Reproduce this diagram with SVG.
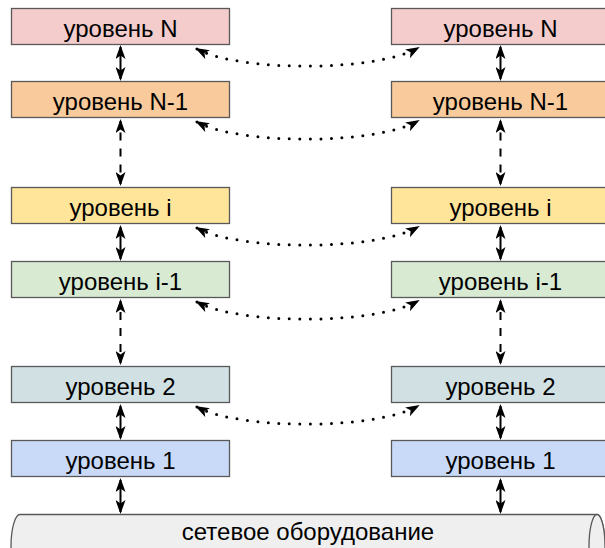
<svg xmlns="http://www.w3.org/2000/svg" width="605" height="548" viewBox="0 0 605 548">
  <style>
    .box { stroke: #595959; stroke-width: 1.3; }
    .lbl { font-family: "Liberation Sans", Arial, sans-serif; font-size: 24px; fill: #000; text-anchor: middle; }
    .solid { stroke: #000; stroke-width: 2; fill: none; marker-start: url(#ah); marker-end: url(#ah); }
    .dash { stroke: #000; stroke-width: 2; fill: none; stroke-dasharray: 8 8; marker-start: url(#ah); marker-end: url(#ah); }
    .dot { stroke: #000; stroke-width: 3; fill: none; stroke-dasharray: 0 10.5; stroke-linecap: round; marker-start: url(#ah); marker-end: url(#ah); }
    .lN { fill: #f4cccc; } .lN1 { fill: #f9cb9c; } .li { fill: #ffe599; }
    .li1 { fill: #d9ead3; } .l2 { fill: #d0e0e3; } .l1 { fill: #c9daf8; }
    .net { fill: #efefef; stroke: #595959; stroke-width: 1.3; }
  </style>
  <defs>
    <marker id="ah" viewBox="0 0 14 10" refX="12" refY="5" markerWidth="14" markerHeight="10" markerUnits="userSpaceOnUse" orient="auto-start-reverse">
      <path d="M0,0 L14,5 L0,10 L3.5,5 z" fill="#000"/>
    </marker>
  </defs>

  <!-- left stack -->
  <g id="left-N"><rect class="box lN" x="11.5" y="8.5" width="218" height="36"/><text class="lbl" x="120.5" y="36.5">уровень N</text></g>
  <g id="left-N-1"><rect class="box lN1" x="11.5" y="81.5" width="218" height="36"/><text class="lbl" x="120.5" y="110">уровень N-1</text></g>
  <g id="left-i"><rect class="box li" x="11.5" y="187.5" width="218" height="36"/><text class="lbl" x="120.5" y="216">уровень i</text></g>
  <g id="left-i-1"><rect class="box li1" x="11.5" y="261.5" width="218" height="36"/><text class="lbl" x="120.5" y="290">уровень i-1</text></g>
  <g id="left-2"><rect class="box l2" x="11.5" y="366.5" width="218" height="36"/><text class="lbl" x="120.5" y="395">уровень 2</text></g>
  <g id="left-1"><rect class="box l1" x="11.5" y="440.5" width="218" height="36"/><text class="lbl" x="120.5" y="469">уровень 1</text></g>

  <!-- right stack -->
  <g id="right-N"><rect class="box lN" x="391.5" y="8.5" width="218" height="36"/><text class="lbl" x="500.5" y="36.5">уровень N</text></g>
  <g id="right-N-1"><rect class="box lN1" x="391.5" y="81.5" width="218" height="36"/><text class="lbl" x="500.5" y="110">уровень N-1</text></g>
  <g id="right-i"><rect class="box li" x="391.5" y="187.5" width="218" height="36"/><text class="lbl" x="500.5" y="216">уровень i</text></g>
  <g id="right-i-1"><rect class="box li1" x="391.5" y="261.5" width="218" height="36"/><text class="lbl" x="500.5" y="290">уровень i-1</text></g>
  <g id="right-2"><rect class="box l2" x="391.5" y="366.5" width="218" height="36"/><text class="lbl" x="500.5" y="395">уровень 2</text></g>
  <g id="right-1"><rect class="box l1" x="391.5" y="440.5" width="218" height="36"/><text class="lbl" x="500.5" y="469">уровень 1</text></g>

  <!-- network hardware (horizontal cylinder) -->
  <g id="network">
    <path class="net" d="M20,514.5 L597,514.5 A8,32 0 0 1 597,578.5 L20,578.5 A9,32 0 0 1 20,514.5 z"/>
    <ellipse class="net" cx="597" cy="546.5" rx="8" ry="32"/>
    <text class="lbl" x="308" y="540">сетевое оборудование</text>
  </g>

  <g id="connectors">
    <!-- vertical links, left -->
    <path class="solid" d="M120.5,47 V79"/>
    <path class="dash" stroke-dashoffset="4.5" d="M120.5,121 V184"/>
    <path class="solid" d="M120.5,227 V259"/>
    <path class="dash" stroke-dashoffset="5" d="M120.5,301 V363"/>
    <path class="solid" d="M120.5,406 V438"/>
    <path class="solid" d="M120.5,480 V512"/>
    <!-- vertical links, right -->
    <path class="solid" d="M500.5,47 V79"/>
    <path class="dash" stroke-dashoffset="4.5" d="M500.5,121 V184"/>
    <path class="solid" d="M500.5,227 V259"/>
    <path class="dash" stroke-dashoffset="5" d="M500.5,301 V363"/>
    <path class="solid" d="M500.5,406 V438"/>
    <path class="solid" d="M500.5,480 V512"/>
    <!-- peer-to-peer links -->
    <path class="dot" d="M197,49 C240,72 375,72 418,48"/>
    <path class="dot" d="M197,122 C240,145 375,145 418,121"/>
    <path class="dot" d="M197,228 C240,251 375,251 418,227"/>
    <path class="dot" d="M197,302 C240,325 375,325 418,301"/>
    <path class="dot" d="M197,407 C240,430 375,430 418,406"/>
  </g>
</svg>
